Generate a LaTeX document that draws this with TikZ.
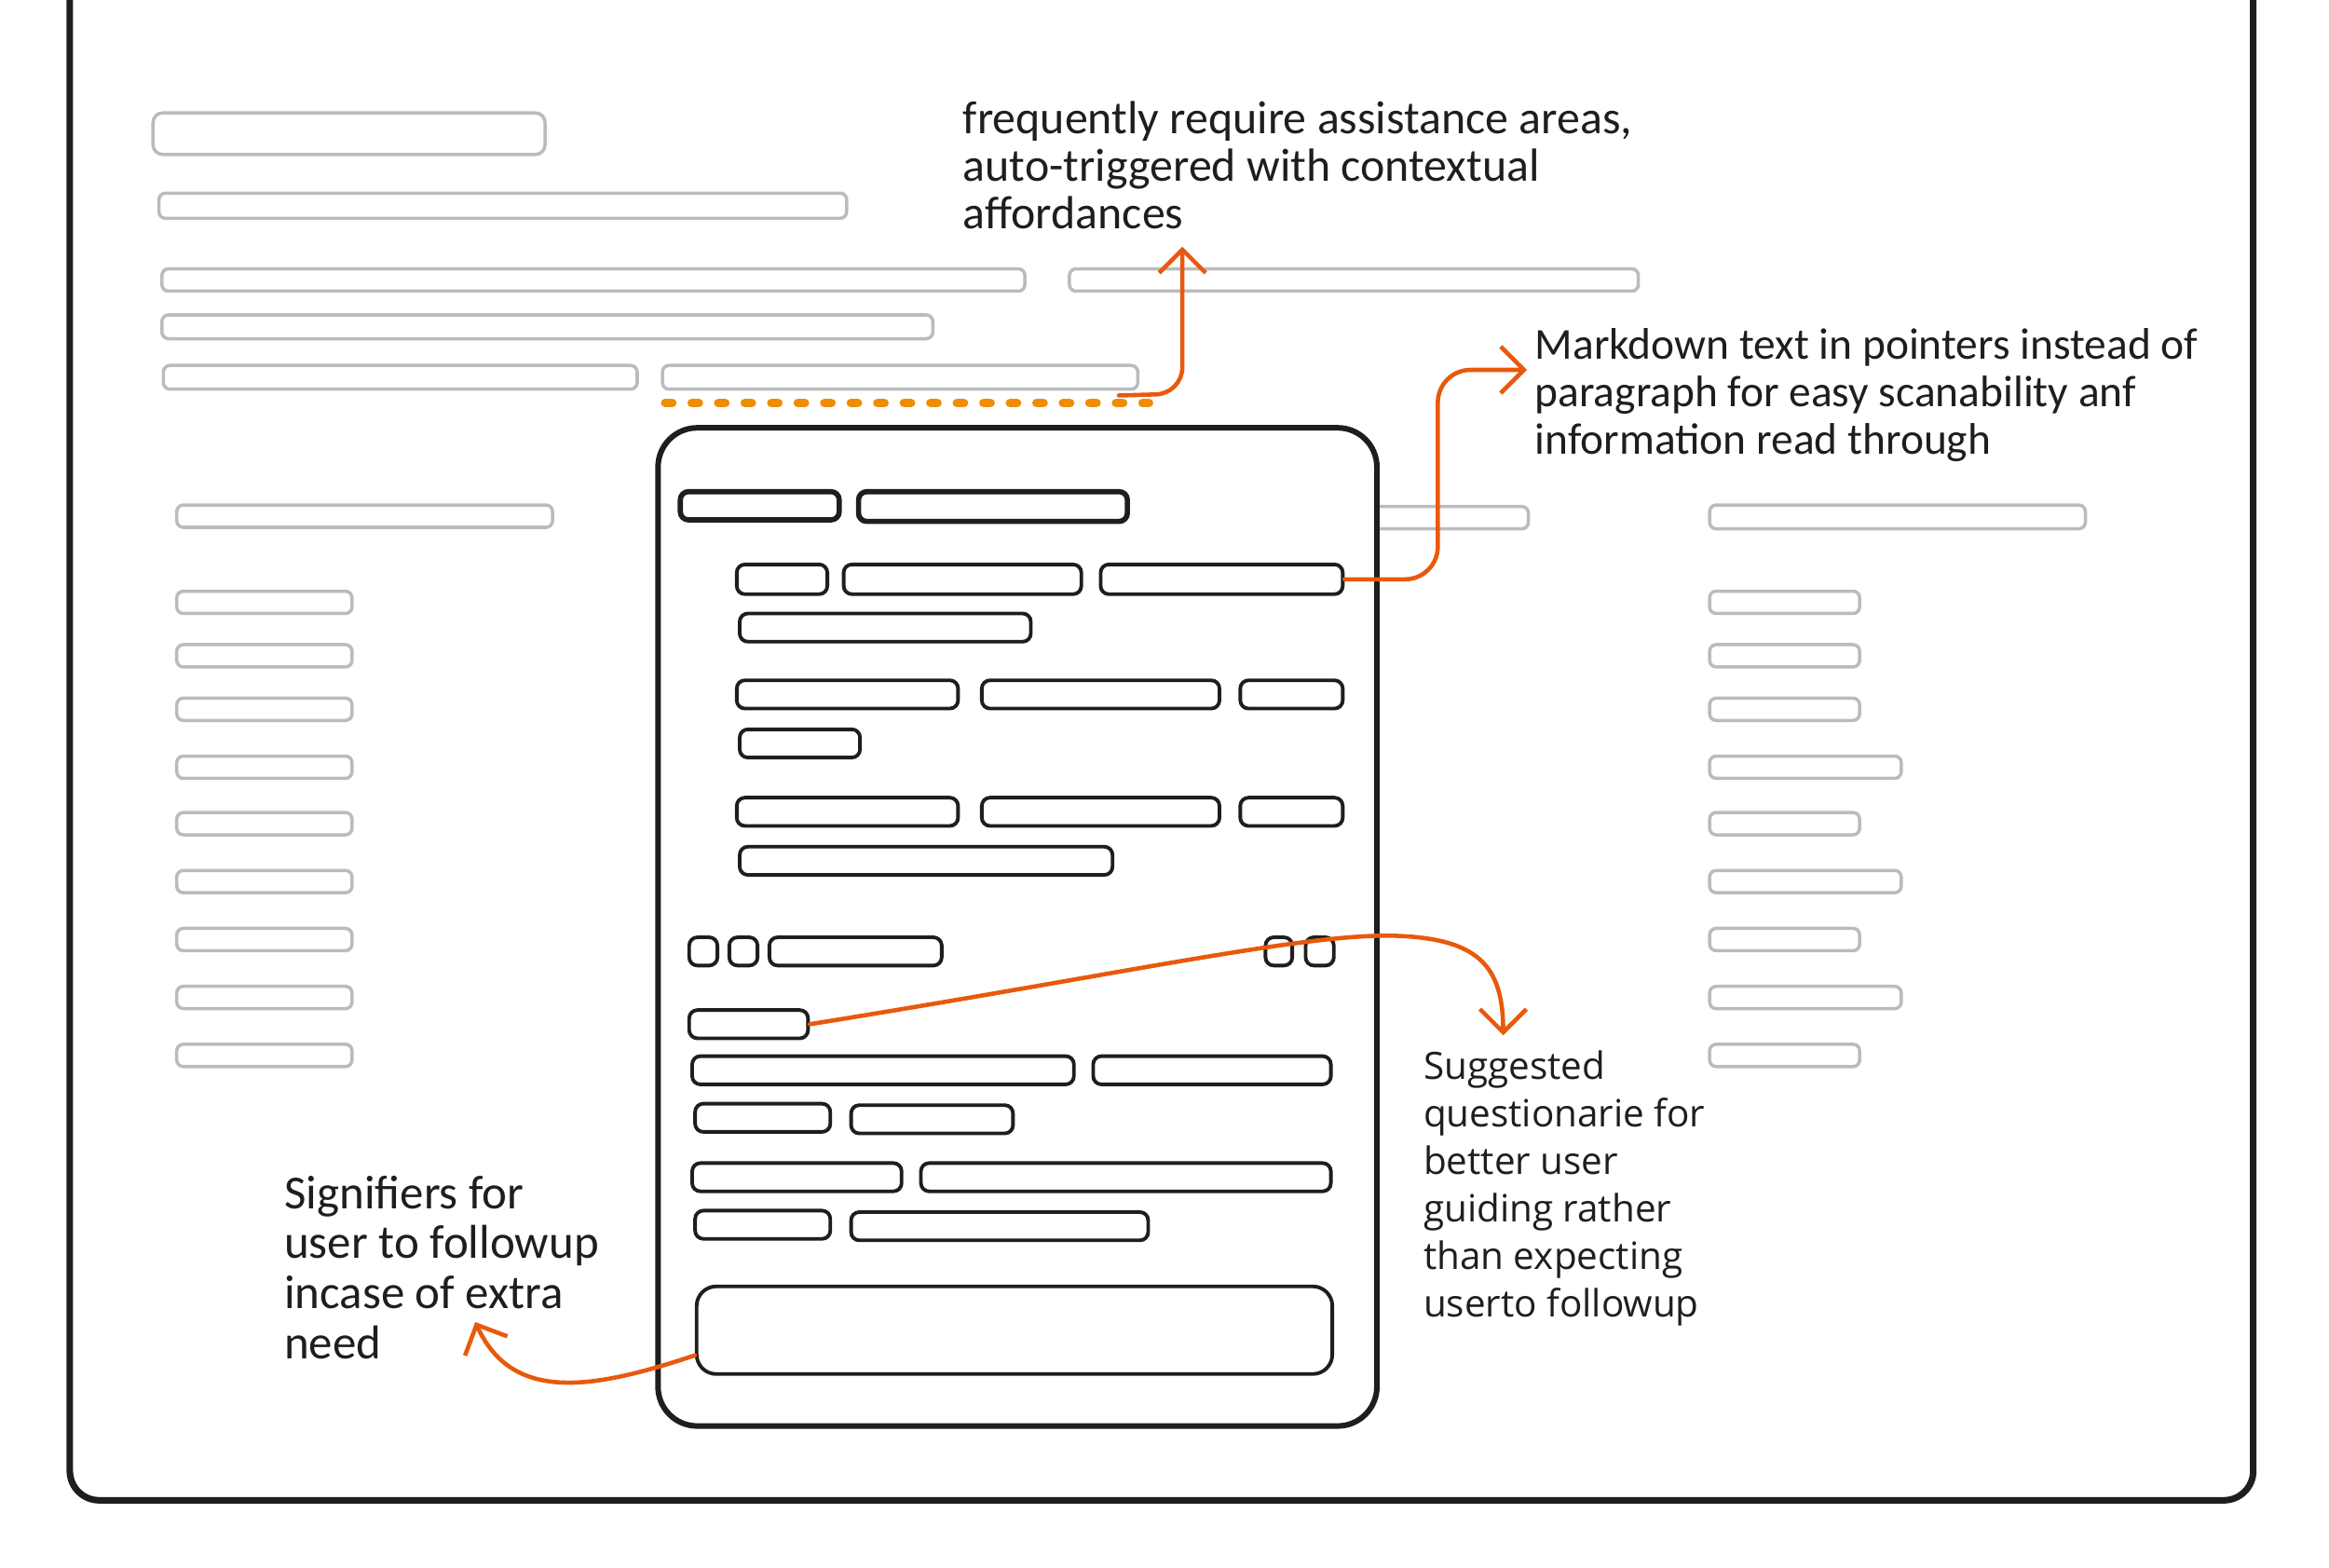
\documentclass[tikz,border=0pt]{standalone}
\usepackage{fontspec}
\usepackage{tikz}
\usepackage{xcolor}
\usetikzlibrary{positioning, arrows.meta, fit}

\newfontfamily\handfont{Carlito}
\newfontfamily\roundfont{Open Sans}
\definecolor{ink}{HTML}{1E1E1E}
\definecolor{faint}{HTML}{BBBBBB}
\definecolor{accent}{HTML}{E8590C}
\definecolor{marker}{HTML}{F08C00}

\begin{document}
\begin{tikzpicture}[
  x=0.015944cm,
  y=-0.015944cm,
  frame/.style={
    draw=ink,
    line width=2pt,
    rounded corners=9pt,
  },
  gbar/.style={
    rectangle,
    draw=faint,
    line width=1pt,
    rounded corners=2pt,
    inner sep=0pt,
  },
  dbar/.style={
    rectangle,
    draw=ink,
    line width=1.1pt,
    rounded corners=2.5pt,
    inner sep=0pt,
  },
  phone/.style={
    rectangle,
    draw=ink,
    fill=white,
    line width=1.7pt,
    rounded corners=12pt,
    inner sep=0pt,
  },
  note/.style={
    anchor=north west,
    align=left,
    inner sep=0pt,
    text=ink,
    font=\handfont\fontsize{13.5}{14.5}\selectfont,
  },
  pointer/.style={
    draw=accent,
    line width=1.3pt,
    line cap=round,
    -{Straight Barb[length=2.5mm, width=5mm]},
  },
  underline/.style={
    draw=marker,
    line width=2.8pt,
    line cap=round,
    dash pattern=on 2pt off 6.1pt,
  },
]
\useasboundingbox (0,0) rectangle (1568,1055);

% page frame, open at the top
\draw[frame] (47,-20) -- (47,1010) -- (1517,1010) -- (1517,-20);

% page text lines
\node[gbar, rounded corners=3pt, fit={(103,76) (367,104)}] (title) {};
\node[gbar, fit={(107,130) (570,147)}] (line1) {};
\node[gbar, fit={(109,181) (690,196)}] (line2a) {};
\node[gbar, fit={(720,181) (1103,196)}] (line2b) {};
\node[gbar, fit={(109,212) (628,228)}] (line3) {};
\node[gbar, fit={(110,246) (429,262)}] (line4a) {};
\node[gbar, fit={(446,246) (766,262)}] (hl) {};
\draw[underline] ([xshift=0.05cm, yshift=-0.13cm]hl.south west) -- ([xshift=0.1cm, yshift=-0.13cm]hl.south east);

% columns
\node[gbar, fit={(119,340) (372,355)}] (headL) {};
\node[gbar, fit={(776,341) (1029,356)}] (headM) {};
\node[gbar, fit={(1151,340) (1404,356)}] (headR) {};
\foreach \yy [count=\i] in {398,434,470,509,547,586,625,664,703}
  \node[gbar, fit={(119,\yy) (237,\yy+15)}] (colL\i) {};
\foreach \yy/\xr [count=\i] in {398/1252,434/1252,470/1252,509/1280,547/1252,586/1280,625/1252,664/1280,703/1252}
  \node[gbar, fit={(1151,\yy) (\xr,\yy+15)}] (colR\i) {};

% phone
\node[phone, fit={(443,288) (927,960)}] (phone) {};
\node[dbar, line width=1.6pt, fit={(458,331) (565,350)}] (tabA) {};
\node[dbar, line width=1.6pt, fit={(578,331) (759,351)}] (tabB) {};

\node[dbar, fit={(496,380) (557,400)}] (r1a) {};
\node[dbar, fit={(568,380) (728,400)}] (r1b) {};
\node[dbar, fit={(741,380) (904,400)}] (r1c) {};
\node[dbar, fit={(498,413) (694,432)}] (r1d) {};

\node[dbar, fit={(496,458) (645,477)}] (r2a) {};
\node[dbar, fit={(661,458) (821,477)}] (r2b) {};
\node[dbar, fit={(835,458) (904,477)}] (r2c) {};
\node[dbar, fit={(498,491) (579,510)}] (r2d) {};

\node[dbar, fit={(496,537) (645,556)}] (r3a) {};
\node[dbar, fit={(661,537) (821,556)}] (r3b) {};
\node[dbar, fit={(835,537) (904,556)}] (r3c) {};
\node[dbar, fit={(498,570) (749,589)}] (r3d) {};

\node[dbar, fit={(464,631) (483,650)}] (icon1) {};
\node[dbar, fit={(491,631) (510,650)}] (icon2) {};
\node[dbar, fit={(518,631) (634,650)}] (chatTitle) {};
\node[dbar, fit={(852,631) (870,650)}] (icon3) {};
\node[dbar, fit={(879,631) (898,650)}] (icon4) {};

\node[dbar, fit={(464,680) (544,699)}] (r5) {};
\node[dbar, fit={(466,711) (723,730)}] (r6a) {};
\node[dbar, fit={(736,711) (896,730)}] (r6b) {};
\node[dbar, fit={(468,743) (559,762)}] (r7a) {};
\node[dbar, fit={(573,744) (682,763)}] (r7b) {};
\node[dbar, fit={(466,783) (607,802)}] (r8a) {};
\node[dbar, fit={(620,783) (896,802)}] (r8b) {};
\node[dbar, fit={(468,815) (559,834)}] (r9a) {};
\node[dbar, fit={(573,816) (773,835)}] (r9b) {};
\node[dbar, rounded corners=6pt, fit={(469,866) (897,925)}] (input) {};

% notes
\node[note, font=\handfont\fontsize{14.2}{14.5}\selectfont] (freq) at (648,68) {frequently require assistance areas,\\auto-triggered with contextual\\affordances};
\node[note] (md) at (1033,221) {Markdown text in pointers instead of\\paragraph for easy scanability anf\\information read through};
\node[note, font=\roundfont\fontsize{11.5}{14.5}\selectfont] (sg) at (958,707) {Suggested\\questionarie for\\better user\\guiding rather\\than expecting\\userto followup};
\node[note, font=\handfont\fontsize{14.5}{15.3}\selectfont] (sf) at (191,791) {Signifiers for\\user to followup\\incase of extra\\need};

% pointers
\coordinate (freqin) at (796,166);
\coordinate (mdin) at (1028,249);
\coordinate (mdbend) at (968,0);
\coordinate (sgin) at (1012,697);
\coordinate (sfin) at (320,890);
\draw[pointer, rounded corners=8pt] ([xshift=-0.22cm, yshift=-0.05cm]hl.south east) -- (796,265) -- (freqin);
\draw[pointer, rounded corners=10pt] (r1c.east) -- (r1c.east -| mdbend) -- (mdbend |- mdin) -- (mdin);
\draw[pointer] (r5.east) .. controls (760,655) and (880,628) .. (940,630) .. controls (995,632) and (1012,650) .. (sgin);
\draw[pointer] ([yshift=-0.27cm]input.west) .. controls (400,935) and (345,945) .. (sfin);
\end{tikzpicture}
\end{document}
